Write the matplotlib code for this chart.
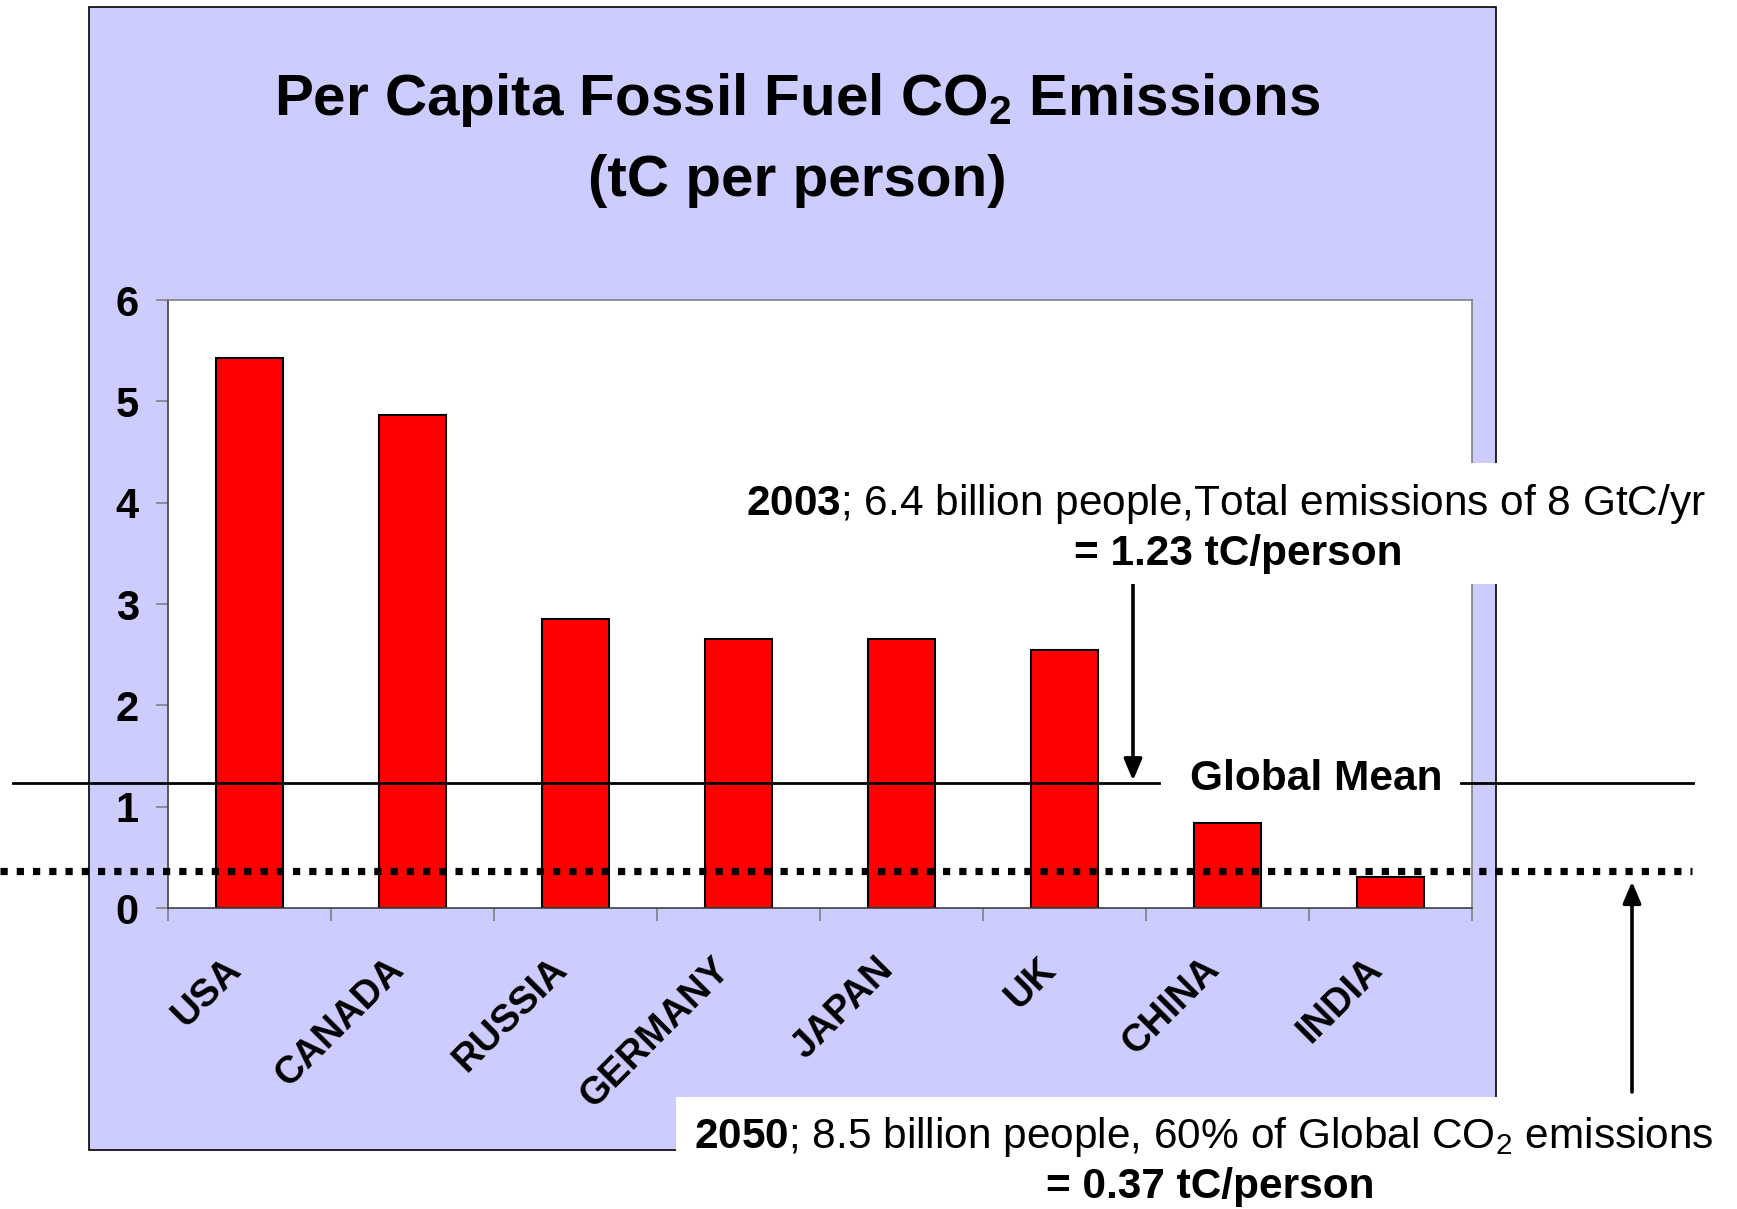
import matplotlib
matplotlib.use("Agg")
import matplotlib.pyplot as plt
from matplotlib import transforms
from matplotlib.patches import Rectangle

countries = ["USA", "CANADA", "RUSSIA", "GERMANY", "JAPAN", "UK", "CHINA", "INDIA"]
per_capita = [5.43, 4.87, 2.85, 2.65, 2.65, 2.55, 0.84, 0.31]
global_mean_2003 = 1.23
target_2050 = 0.37
y_ticks = [0, 1, 2, 3, 4, 5, 6]

plt.rcParams["font.family"] = ["Liberation Sans", "DejaVu Sans"]
plt.rcParams["mathtext.fontset"] = "custom"
plt.rcParams["mathtext.rm"] = "Liberation Sans"
plt.rcParams["mathtext.bf"] = "Liberation Sans:bold"
plt.rcParams["mathtext.default"] = "regular"

W, H = 1737, 1209
fig = plt.figure(figsize=(W / 100, H / 100), dpi=100)


def fx(px):
    return px / W


def fy(py):
    return 1 - py / H


# lavender chart panel
fig.add_artist(Rectangle((fx(89), fy(1150)), fx(1496) - fx(89), fy(7) - fy(1150),
                         transform=fig.transFigure, facecolor="#ccccff",
                         edgecolor="black", linewidth=1.2, zorder=-1))

ax = fig.add_axes([fx(168), fy(908), fx(1472) - fx(168), fy(300) - fy(908)])
ax.set_facecolor("white")
x = list(range(len(countries)))
ax.bar(x, per_capita, width=0.41, color="#ff0000", edgecolor="black", linewidth=1.5, zorder=2)

ax.set_xlim(-0.5, len(countries) - 0.5)
ax.set_ylim(0, 6)
ax.set_yticks(y_ticks)
ax.set_yticklabels([str(v) for v in y_ticks], fontweight="bold", fontsize=30)
ax.tick_params(axis="y", length=9, width=1.2, color="#808080", pad=12)

ax.set_xticks(x)
ax.set_xticklabels(countries, rotation=45, ha="right", va="center",
                   rotation_mode="anchor", fontweight="bold", fontsize=27.5)
ax.tick_params(axis="x", which="major", length=0, pad=40)
ax.set_xticks([i - 0.5 for i in range(len(countries) + 1)], minor=True)
ax.tick_params(axis="x", which="minor", length=9, width=1.2, color="#808080")
shift = transforms.ScaledTranslation(-14 / 100, 0, fig.dpi_scale_trans)
for lab in ax.get_xticklabels():
    lab.set_transform(lab.get_transform() + shift)

for side in ["top", "right"]:
    ax.spines[side].set_color("#808080")
    ax.spines[side].set_linewidth(1.2)
for side in ["left", "bottom"]:
    ax.spines[side].set_color("#404040")
    ax.spines[side].set_linewidth(1.2)

# white label boxes on top of the panel
fig.add_artist(Rectangle((fx(735), fy(584)), fx(1722) - fx(735), fy(463) - fy(584),
                         transform=fig.transFigure, facecolor="white",
                         edgecolor="none", zorder=1))
fig.add_artist(Rectangle((fx(676), 0), fx(1737) - fx(676), fy(1097),
                         transform=fig.transFigure, facecolor="white",
                         edgecolor="none", zorder=1))

# reference lines: x in figure fraction, y in data units
blend = transforms.blended_transform_factory(fig.transFigure, ax.transData)
ax.plot([fx(13), fx(1159)], [global_mean_2003] * 2, transform=blend,
        color="black", linewidth=2, clip_on=False, zorder=3)
ax.plot([fx(1461), fx(1693)], [global_mean_2003] * 2, transform=blend,
        color="black", linewidth=2, clip_on=False, zorder=3)
ax.plot([0, fx(1692)], [target_2050] * 2, transform=blend, color="black",
        linewidth=5.2, linestyle=(0, (1, 1.25)), dash_capstyle="butt",
        clip_on=False, zorder=3)

arrow = dict(arrowstyle="-|>,head_length=1.3,head_width=0.55", color="black",
             linewidth=2.6, mutation_scale=10, shrinkA=0)
ax.annotate("", xy=(fx(1133), global_mean_2003), xycoords=blend,
            xytext=(fx(1133), fy(583)), textcoords="figure fraction",
            arrowprops=dict(arrow, shrinkB=2), annotation_clip=False)
ax.annotate("", xy=(fx(1632), target_2050), xycoords=blend,
            xytext=(fx(1632), fy(1092)), textcoords="figure fraction",
            arrowprops=dict(arrow, shrinkB=8), annotation_clip=False)

# titles and notes
fig.text(fx(797), fy(115), "Per Capita Fossil Fuel CO$_2$ Emissions",
         ha="center", va="baseline", fontsize=42, fontweight="bold", zorder=4)
fig.text(fx(797), fy(196), "(tC per person)",
         ha="center", va="baseline", fontsize=42, fontweight="bold", zorder=4)

fig.text(fx(1226), fy(515), r"$\mathbf{2003}$; 6.4 billion people,Total emissions of 8 GtC/yr",
         ha="center", va="baseline", fontsize=30.5, zorder=4)
fig.text(fx(1238), fy(565), "= 1.23 tC/person",
         ha="center", va="baseline", fontsize=30.5, fontweight="bold", zorder=4)
fig.text(fx(1316), fy(790), "Global Mean",
         ha="center", va="baseline", fontsize=30.5, fontweight="bold", zorder=4)
fig.text(fx(1204), fy(1148), r"$\mathbf{2050}$; 8.5 billion people, 60% of Global CO$_2$ emissions",
         ha="center", va="baseline", fontsize=30.5, zorder=4)
fig.text(fx(1210), fy(1198), "= 0.37 tC/person",
         ha="center", va="baseline", fontsize=30.5, fontweight="bold", zorder=4)

fig.savefig("out.png", dpi=100)
